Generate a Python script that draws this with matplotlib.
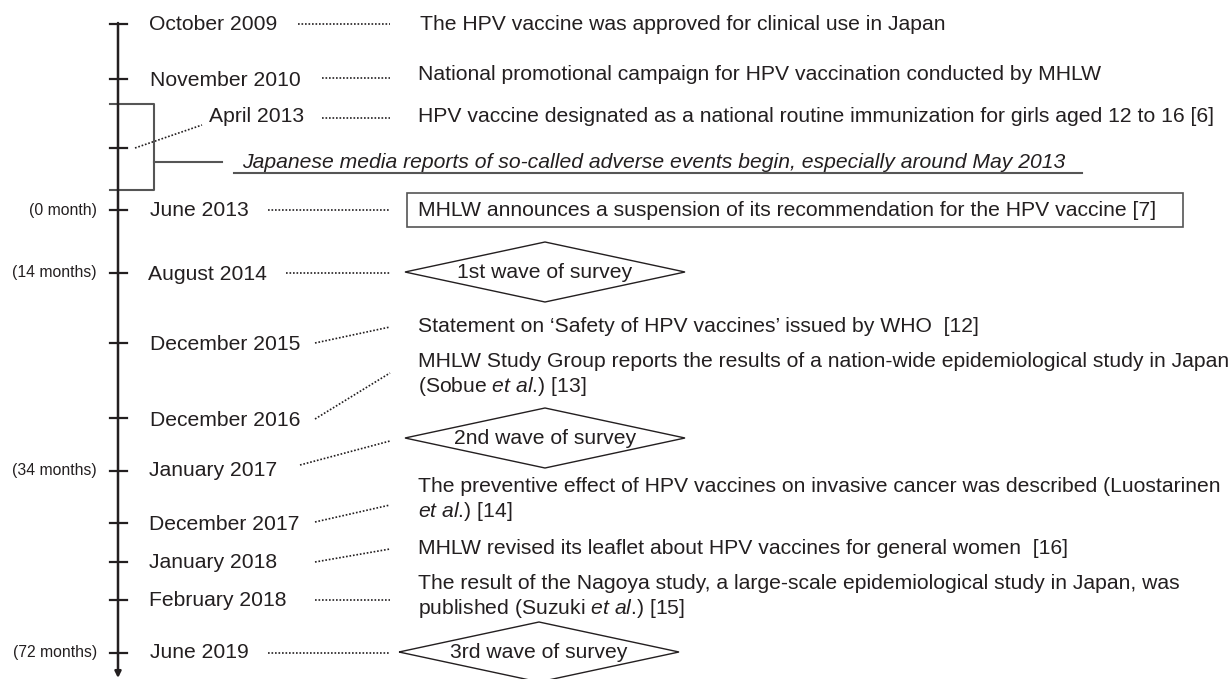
import numpy as np
import matplotlib
matplotlib.use("Agg")
import matplotlib.pyplot as plt
from matplotlib.patches import Polygon, Rectangle

plt.rcParams['font.family'] = ['Liberation Sans', 'DejaVu Sans']
plt.rcParams['mathtext.fontset'] = 'custom'
plt.rcParams['mathtext.rm'] = 'Liberation Sans'
plt.rcParams['mathtext.it'] = 'Liberation Sans:italic'

# timeline content
dates = ["October 2009", "November 2010", "April 2013", "June 2013", "August 2014",
         "December 2015", "December 2016", "January 2017", "December 2017",
         "January 2018", "February 2018", "June 2019"]
elapsed = ["", "", "", "(0 month)", "(14 months)", "", "", "(34 months)", "", "", "",
           "(72 months)"]
events = [
    "The HPV vaccine was approved for clinical use in Japan",
    "National promotional campaign for HPV vaccination conducted by MHLW",
    "HPV vaccine designated as a national routine immunization for girls aged 12 to 16 [6]",
    "MHLW announces a suspension of its recommendation for the HPV vaccine [7]",
    "1st wave of survey",
    "Statement on \u2018Safety of HPV vaccines\u2019 issued by WHO  [12]",
    "MHLW Study Group reports the results of a nation-wide epidemiological study in Japan\n"
    "(Sobue $\\mathit{et\\ al}$.) [13]",
    "2nd wave of survey",
    "The preventive effect of HPV vaccines on invasive cancer was described (Luostarinen\n"
    "$\\mathit{et\\ al}$.) [14]",
    "MHLW revised its leaflet about HPV vaccines for general women  [16]",
    "The result of the Nagoya study, a large-scale epidemiological study in Japan, was\n"
    "published (Suzuki $\\mathit{et\\ al}$.) [15]",
    "3rd wave of survey",
]
kinds = ["text", "text", "text", "box", "wave", "text", "text", "wave", "text", "text",
         "text", "wave"]
media_note = "Japanese media reports of so-called adverse events begin, especially around May 2013"

# layout in pixels (y grows downwards)
tick_y = [24, 79, 148, 210, 273, 343, 418, 471, 523, 562, 600, 653]
label_x = [149, 150, 209, 150, 148, 150, 150, 149, 149, 149, 149, 150]
label_y = [24, 80, 117, 211, 275, 345, 420, 470, 524, 563, 600, 653]
conn_x0 = [298, 322, 322, 268, 286, 315, 315, 300, 315, 315, 315, 268]
conn_y0 = [24, 78, 118, 210, 273, 343, 419, 465, 522, 562, 600, 653]
conn_y1 = [24, 78, 118, 210, 273, 327, 373, 441, 505, 549, 600, 653]
event_x = [420, 418, 418, 418, 545, 418, 418, 545, 418, 418, 418, 539]
event_y = [24, 75, 117, 210, 272, 326, 375, 438, 500, 549, 597, 652]

ink = '#231f20'
fs = 15.2

fig = plt.figure(figsize=(12.29, 6.79), dpi=100)
ax = fig.add_axes([0, 0, 1, 1])
ax.set_xlim(0, 1229)
ax.set_ylim(679, 0)
ax.axis('off')

# main axis with arrow
ax.annotate('', xy=(118, 678), xytext=(118, 23),
            arrowprops=dict(arrowstyle='-|>', color=ink, lw=1.8, mutation_scale=9,
                            shrinkA=0, shrinkB=0))

for i, d in enumerate(dates):
    ax.plot([110, 127], [tick_y[i], tick_y[i]], color=ink, lw=1.6)
    ax.text(label_x[i], label_y[i], d, fontsize=fs, color=ink, va='center', ha='left')
    if elapsed[i]:
        ax.text(97, tick_y[i], elapsed[i], fontsize=11.3, color=ink, va='center', ha='right')
    ax.plot([conn_x0[i], 390], [conn_y0[i], conn_y1[i]], color=ink, lw=1.2,
            linestyle=(0, (1, 1.1)))
    if kinds[i] == 'wave':
        cx, cy = event_x[i], event_y[i]
        ax.add_patch(Polygon([[cx - 140, cy], [cx, cy - 30], [cx + 140, cy], [cx, cy + 30]],
                             closed=True, fill=False, edgecolor=ink, lw=1.0))
        ax.text(cx, cy, events[i], fontsize=fs, color=ink, va='center', ha='center')
    else:
        ax.text(event_x[i], event_y[i], events[i], fontsize=fs, color=ink, va='center',
                ha='left', linespacing=1.25)
    if kinds[i] == 'box':
        ax.add_patch(Rectangle((407, 193), 776, 34, fill=False, edgecolor='#555555', lw=1.2))

# April 2013 label pointer
ax.plot([135, 202], [148, 125], color=ink, lw=1.2, linestyle=(0, (1, 1.1)))

# bracket for the media reports period
gray = '#555555'
ax.plot([110, 154, 154, 110], [104, 104, 190, 190], color=gray, lw=1.5)
ax.plot([154, 222], [162, 162], color=gray, lw=1.5)
ax.text(242, 162, media_note, fontsize=fs, style='italic', color=ink, va='center', ha='left')
ax.plot([234, 1082], [173, 173], color=gray, lw=1.5)

fig.savefig('out.png', dpi=100)
